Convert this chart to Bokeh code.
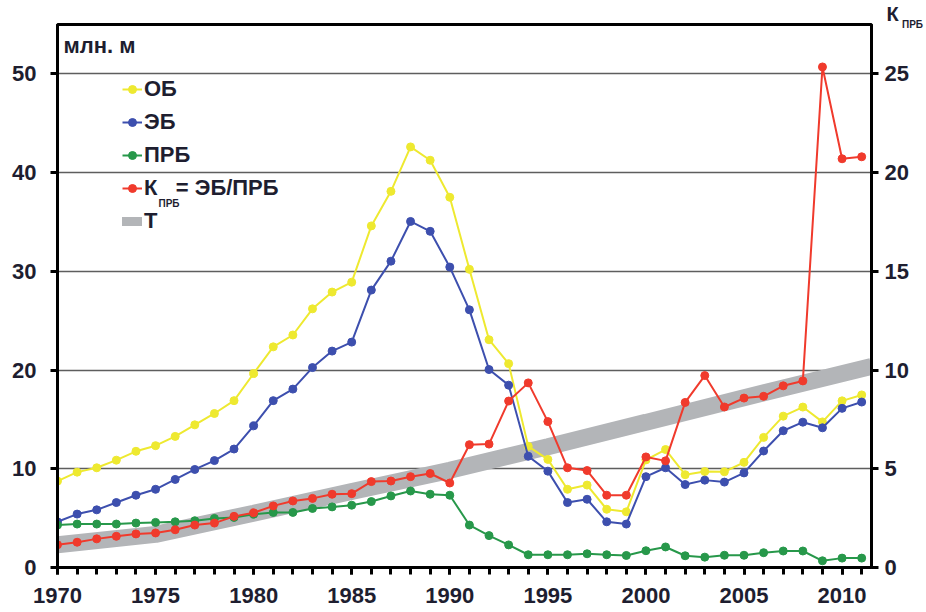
from bokeh.plotting import figure
from bokeh.models import Range1d, LinearAxis, FixedTicker, Legend, LegendItem, Label, Title
from bokeh.embed import file_html
from bokeh.resources import INLINE

years = list(range(1970, 2012))
ob = [8.75, 9.66, 10.1, 10.87, 11.77, 12.34, 13.28, 14.45, 15.6, 16.9,
      19.65, 22.35, 23.55, 26.2, 27.9, 28.9, 34.6, 38.1, 42.6, 41.25,
      37.5, 30.2, 23.07, 20.65, 12.27, 10.95, 7.92, 8.35, 5.9, 5.64,
      10.9, 11.95, 9.4, 9.72, 9.7, 10.65, 13.18, 15.33, 16.25, 14.75,
      16.88, 17.48]
eb = [4.63, 5.41, 5.84, 6.58, 7.32, 7.92, 8.92, 9.93, 10.83, 12.0,
      14.35, 16.9, 18.07, 20.25, 21.92, 22.83, 28.1, 31.03, 35.05, 34.05,
      30.43, 26.1, 20.05, 18.47, 11.27, 9.76, 6.58, 6.91, 4.63, 4.4,
      9.2, 10.1, 8.4, 8.85, 8.65, 9.58, 11.8, 13.85, 14.72, 14.15,
      16.12, 16.76]
prb = [4.3, 4.4, 4.4, 4.4, 4.5, 4.57, 4.63, 4.74, 4.97, 5.07,
       5.4, 5.58, 5.58, 5.98, 6.14, 6.31, 6.68, 7.25, 7.75, 7.42,
       7.32, 4.3, 3.23, 2.29, 1.29, 1.29, 1.29, 1.39, 1.29, 1.22,
       1.7, 2.08, 1.19, 1.05, 1.24, 1.24, 1.5, 1.67, 1.67, 0.68,
       0.95, 0.95]
k_prb = [1.15, 1.28, 1.45, 1.58, 1.7, 1.75, 1.91, 2.15, 2.25, 2.59,
         2.77, 3.12, 3.37, 3.5, 3.71, 3.74, 4.35, 4.38, 4.6, 4.76,
         4.28, 6.22, 6.25, 8.43, 9.35, 7.39, 5.05, 4.91, 3.66, 3.66,
         5.6, 5.4, 8.36, 9.72, 8.13, 8.58, 8.67, 9.2, 9.45, 25.35,
         20.7, 20.8]
t_years = [1970, 1975, 1980, 1985, 1990, 1995, 2000, 2005, 2011.5]
t_vals = [1.15, 1.68, 2.75, 3.85, 4.92, 6.12, 7.35, 8.6, 10.18]

left_ticks = [0, 10, 20, 30, 40, 50]
grid_ticks = [10, 20, 30, 40, 50]
right_ticks = [0, 5, 10, 15, 20, 25]
year_ticks = [1970, 1975, 1980, 1985, 1990, 1995, 2000, 2005, 2010]

labels = ["ОБ", "ЭБ", "ПРБ", "К   = ЭБ/ПРБ", "Т"]

FONT = "Liberation Sans"
TXT = "#1e1e30"
C_YEL = "#eee930"
C_BLU = "#3d4fae"
C_GRN = "#27984a"
C_RED = "#f03a2c"
C_BAND = "#b3b5b8"

p = figure(width=926, height=612, x_range=Range1d(1970, 2011.5), y_range=Range1d(0, 55),
           output_backend="svg", toolbar_location=None,
           min_border_left=57, min_border_right=54, min_border_top=22, min_border_bottom=45)
p.extra_y_ranges = {"k": Range1d(0, 27.5)}
p.background_fill_color = "white"
p.border_fill_color = "white"
p.outline_line_color = "black"
p.outline_line_width = 3
p.outline_line_alpha = 1

p.xgrid.visible = False
p.ygrid.ticker = FixedTicker(ticks=grid_ticks)
p.ygrid.grid_line_color = "#5e5e5e"
p.ygrid.grid_line_width = 1.5

band_leg = p.line(t_years, t_vals, y_range_name="k", line_width=9, line_cap="round", line_color=C_BAND)
band = p.line(t_years, t_vals, y_range_name="k", line_width=17, line_color=C_BAND)

yl = p.line(years, ob, line_color=C_YEL, line_width=2)
ys = p.scatter(years, ob, marker="circle", size=8, color=C_YEL)
bl = p.line(years, eb, line_color=C_BLU, line_width=2)
bs = p.scatter(years, eb, marker="circle", size=8, color=C_BLU)
gl = p.line(years, prb, line_color=C_GRN, line_width=2)
gs = p.scatter(years, prb, marker="circle", size=8, color=C_GRN)
rl = p.line(years, k_prb, y_range_name="k", line_color=C_RED, line_width=2)
rs = p.scatter(years, k_prb, y_range_name="k", marker="circle", size=8, color=C_RED)

def style_axis(ax, ticker, standoff):
    ax.ticker = ticker
    ax.axis_line_width = 3
    ax.axis_line_color = "black"
    ax.major_tick_line_width = 3
    ax.major_tick_line_color = "black"
    ax.major_tick_out = 7
    ax.major_tick_in = 0
    ax.minor_tick_line_width = 3
    ax.minor_tick_line_color = "black"
    ax.minor_tick_in = 0
    ax.major_label_standoff = standoff
    ax.major_label_text_font = FONT
    ax.major_label_text_font_style = "bold"
    ax.major_label_text_font_size = "22px"
    ax.major_label_text_color = TXT

style_axis(p.yaxis[0], FixedTicker(ticks=left_ticks), 14)
p.yaxis[0].minor_tick_out = 0
style_axis(p.xaxis[0], FixedTicker(ticks=year_ticks, minor_ticks=years), 13)
p.xaxis[0].minor_tick_out = 7

rax = LinearAxis(y_range_name="k")
style_axis(rax, FixedTicker(ticks=right_ticks), 6)
rax.minor_tick_out = 0
# subscript of the right-axis title
rax.axis_label = "ПРБ"
rax.axis_label_text_font = FONT
rax.axis_label_text_font_style = "bold"
rax.axis_label_text_font_size = "10px"
rax.axis_label_text_color = TXT
rax.axis_label_standoff = -10
rax.axis_label_orientation = "horizontal"
if "axis_label_align" in rax.properties():
    try:
        rax.axis_label_align = "end"
    except Exception:
        try:
            rax.axis_label_align = "right"
        except Exception:
            pass
p.add_layout(rax, "right")

# main letter of the right-axis title
p.add_layout(Title(text="К", align="left", offset=829, vertical_align="bottom", standoff=0,
                   text_font=FONT, text_font_style="bold", text_font_size="20px",
                   text_color=TXT), "above")

legend = Legend(items=[
    LegendItem(label=labels[0], renderers=[yl, ys]),
    LegendItem(label=labels[1], renderers=[bl, bs]),
    LegendItem(label=labels[2], renderers=[gl, gs]),
    LegendItem(label=labels[3], renderers=[rl, rs]),
    LegendItem(label=labels[4], renderers=[band_leg]),
], location=(65, 333), orientation="vertical", glyph_width=20, glyph_height=26,
    label_height=26, spacing=7, padding=0, margin=0, label_standoff=2,
    border_line_alpha=0, background_fill_alpha=0,
    label_text_font=FONT, label_text_font_style="bold", label_text_font_size="22px",
    label_text_color=TXT)
p.add_layout(legend)

def txt(text, x, y, size):
    p.add_layout(Label(x=x, y=y, x_units="screen", y_units="screen", text=text,
                       text_font=FONT, text_font_style="bold", text_font_size=size,
                       text_color=TXT, text_baseline="alphabetic"))

txt("млн. м", 6, 522, "22px")
txt("ПРБ", 101, 364, "10px")

open("out.html", "w").write(file_html(p, INLINE))
